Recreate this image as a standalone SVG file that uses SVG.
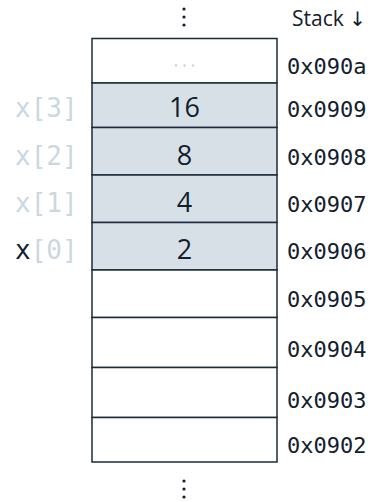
<svg xmlns="http://www.w3.org/2000/svg" width="375" height="502" viewBox="0 0 375 502">
<style>
.cell{stroke:#1b2b3b;stroke-width:1.5}
.e{fill:#ffffff}
.s{fill:#d8e0e7}
.addr{font-family:"DejaVu Sans Mono",monospace;font-size:22px;fill:#12202e}
.val{font-family:"Open Sans","Noto Sans",sans-serif;font-size:27px;fill:#12202e;text-anchor:middle}
.lbl{font-family:"DejaVu Sans Mono",monospace;font-size:26px;fill:#cdd7e0}
.dark{fill:#12202e}
.dots{fill:#12202e}
.ell{fill:#c8d4df}
</style>
<rect width="375" height="502" fill="#ffffff"/>
<g id="top-dots" class="dots"><circle cx="184" cy="9" r="1.6"/><circle cx="184" cy="17" r="1.6"/><circle cx="184" cy="25" r="1.6"/></g>
<text id="stack-title" x="292" y="26" font-family="Open Sans, Noto Sans, sans-serif" font-size="21" fill="#12202e">Stack <tspan font-family="DejaVu Sans, sans-serif" font-size="20">↓</tspan></text>
<g id="cell-090a"><rect class="cell e" x="92" y="38.5" width="185" height="44.5"/><g class="ell"><circle cx="176" cy="65.5" r="1.2"/><circle cx="184.5" cy="65.5" r="1.2"/><circle cx="193" cy="65.5" r="1.2"/></g><text class="addr" x="287" y="74">0x090a</text></g>
<g id="cell-0909"><rect class="cell s" x="92" y="83" width="185" height="44.5"/><text class="val" x="184.5" y="117">16</text><text class="addr" x="287" y="117">0x0909</text><text class="lbl" x="15" y="117">x[3]</text></g>
<g id="cell-0908"><rect class="cell s" x="92" y="127.5" width="185" height="47.5"/><text class="val" x="184.5" y="165">8</text><text class="addr" x="287" y="165">0x0908</text><text class="lbl" x="15" y="165">x[2]</text></g>
<g id="cell-0907"><rect class="cell s" x="92" y="175" width="185" height="47.5"/><text class="val" x="184.5" y="212">4</text><text class="addr" x="287" y="212">0x0907</text><text class="lbl" x="15" y="212">x[1]</text></g>
<g id="cell-0906"><rect class="cell s" x="92" y="222.5" width="185" height="47.5"/><text class="val" x="184.5" y="259">2</text><text class="addr" x="287" y="259">0x0906</text><text class="lbl" x="15" y="259"><tspan class="dark">x</tspan>[0]</text></g>
<g id="cell-0905"><rect class="cell e" x="92" y="270" width="185" height="47.5"/><text class="addr" x="287" y="307">0x0905</text></g>
<g id="cell-0904"><rect class="cell e" x="92" y="317.5" width="185" height="50"/><text class="addr" x="287" y="357">0x0904</text></g>
<g id="cell-0903"><rect class="cell e" x="92" y="367.5" width="185" height="50"/><text class="addr" x="287" y="408">0x0903</text></g>
<g id="cell-0902"><rect class="cell e" x="92" y="417.5" width="185" height="44.5"/><text class="addr" x="287" y="453">0x0902</text></g>
<g id="bottom-dots" class="dots"><circle cx="184" cy="481" r="1.6"/><circle cx="184" cy="489" r="1.6"/><circle cx="184" cy="497" r="1.6"/></g>
</svg>
